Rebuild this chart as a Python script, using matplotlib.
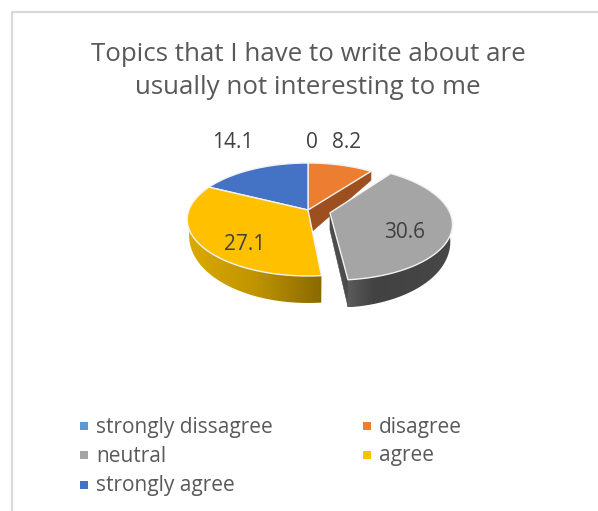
import numpy as np
import matplotlib
matplotlib.use('Agg')
import matplotlib.pyplot as plt
from matplotlib.colors import to_rgb
from matplotlib.patches import Polygon

categories = ['strongly dissagree', 'disagree', 'neutral', 'agree', 'strongly agree']
values = [0, 8.2, 30.6, 27.1, 14.1]
value_labels = ['0', '8.2', '30.6', '27.1', '14.1']
explode = [0, 0, 0.19, 0, 0]

colours = ['#5b9bd5', '#ed7d31', '#a5a5a5', '#ffc000', '#4472c4']
title_colour = '#595959'
label_colour = '#404040'

### layout in image pixels
cx, cy = 308, 210
rx, ry = 119, 54.9
persp = 0.168
label_pos = [(312, 143), (347, 143), (405, 233), (245, 244), (233, 143)]
legend_pos = [(84, 426), (367, 426), (84, 455), (367, 455), (84, 485)]

plt.rcParams['font.family'] = ['Open Sans', 'DejaVu Sans']

fig = plt.figure(figsize=(5.98, 5.11), dpi=100)
fig.set_facecolor('white')
ax = fig.add_axes([0, 0, 1, 1])
ax.axis('off')

### chart frame
ax.plot([11.5, 11.5, 598], [511, 12.5, 12.5], color='#d9d9d9', lw=1.6, zorder=1)


def project(u, v):
    w = 1 + persp * v
    return cx + rx * u / w, cy - ry * v / w


def rim_points(a0, a1, shift):
    # a0, a1 are degrees clockwise from 12 o'clock
    t = np.radians(np.linspace(a0, a1, 120))
    return np.sin(t) + shift[0], np.cos(t) + shift[1]


def draw_top(a0, a1, shift, colour, zo):
    u, v = rim_points(a0, a1, shift)
    x, y = project(u, v)
    ax0, ay0 = project(shift[0], shift[1])
    ax.fill(np.r_[ax0, x], np.r_[ay0, y], facecolor=colour, edgecolor='#f2f2f2', lw=1.0, zorder=zo, joinstyle='round')


def draw_rim(a0, a1, shift, stops, zo):
    u, v = rim_points(a0, a1, shift)
    x, y = project(u, v)
    depth = np.clip(14 - 13 * v, 2, None)
    xb = cx + (x - cx) * 0.985
    yb = y + depth
    # gradient image clipped to the side of the slice
    f = np.linspace(0, 1, 256)
    grad = np.stack([np.interp(f, stops[0], [s[k] for s in stops[1]]) for k in range(3)], axis=-1)[None, :, :]
    im = ax.imshow(grad, extent=(min(x.min(), xb.min()), max(x.max(), xb.max()), yb.max(), y.min()),
                   aspect='auto', zorder=zo, interpolation='bilinear')
    clip = Polygon(np.c_[np.r_[x, xb[::-1]], np.r_[y, yb[::-1]]], closed=True, transform=ax.transData)
    im.set_clip_path(clip)


def draw_wall(a, shift, depth_centre, depth_rim, colour, zo):
    t = np.radians(a)
    x0, y0 = project(shift[0], shift[1])
    x1, y1 = project(np.sin(t) + shift[0], np.cos(t) + shift[1])
    ax.fill([x0, x1, x1, x0], [y0, y1, y1 + depth_rim, y0 + depth_centre],
            facecolor=colour, edgecolor=colour, lw=0.4, zorder=zo)


### angles from the values
total = sum(values)
ends = np.cumsum(values) / total * 360
starts = np.r_[0, ends[:-1]]
mids = (starts + ends) / 2
shifts = [(e * np.sin(np.radians(m)), e * np.cos(np.radians(m))) for e, m in zip(explode, mids)]

### orange cut wall, then back slices
draw_wall(ends[1], shifts[1], 25, 9, '#9e4f1f', 2)
draw_top(starts[1], ends[1], shifts[1], colours[1], 3)
draw_top(starts[4], ends[4], shifts[4], colours[4], 3)

### yellow
yellow_stops = ([0, 0.5, 1], [to_rgb('#dcaa00'), to_rgb('#c09400'), to_rgb('#8a6a00')])
draw_rim(starts[3], ends[3], shifts[3], yellow_stops, 4)
draw_top(starts[3], ends[3], shifts[3], colours[3], 5)

### grey, pulled out
grey_stops = ([0, 0.25, 1], [to_rgb('#5c5c5c'), to_rgb('#424242'), to_rgb('#474747')])
draw_wall(ends[2], shifts[2], 17, 27, '#4c4c4c', 6)
draw_rim(starts[2], ends[2], shifts[2], grey_stops, 7)
draw_top(starts[2], ends[2], shifts[2], colours[2], 8)

### title
ax.text(308, 54.5, 'Topics that I have to write about are', ha='center', va='center',
        fontsize=18.6, color=title_colour, zorder=10)
ax.text(308, 88, 'usually not interesting to me', ha='center', va='center',
        fontsize=18.6, color=title_colour, zorder=10)

### data labels
for txt, (lx, ly) in zip(value_labels, label_pos):
    ax.text(lx, ly, txt, ha='center', va='center', fontsize=15, color=label_colour, zorder=10)

### legend
for name, c, (lx, ly) in zip(categories, colours, legend_pos):
    ax.scatter([lx], [ly], marker='s', s=34, color=c, linewidths=0, zorder=10)
    ax.text(lx + 12, ly + 1, name, ha='left', va='center', fontsize=15, color=title_colour, zorder=10)

ax.set_xlim(0, 598)
ax.set_ylim(511, 0)

fig.savefig('out.png', dpi=100)
